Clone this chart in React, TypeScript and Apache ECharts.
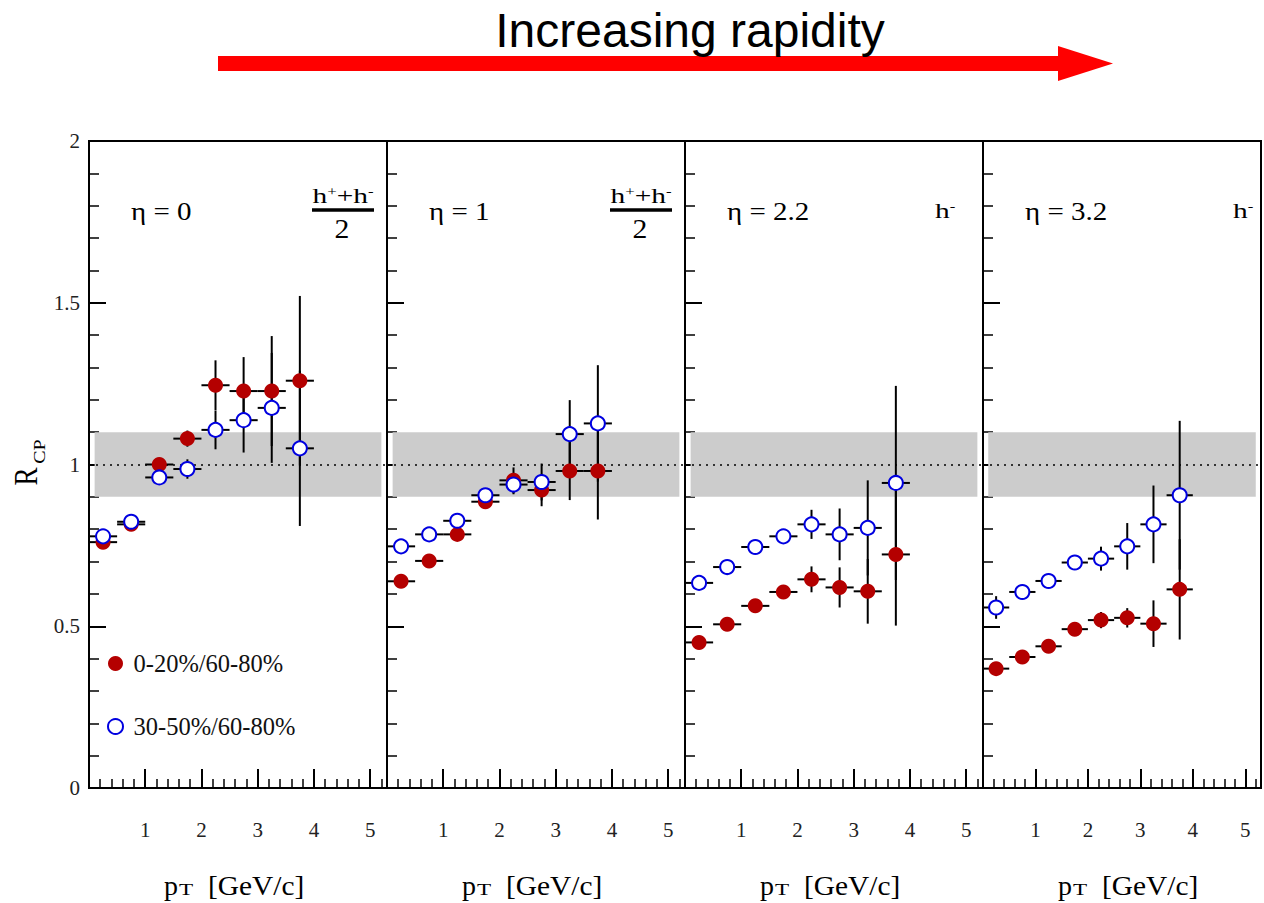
import React, { useEffect, useRef } from 'react';
import * as echarts from 'echarts';

// ---------- data ----------
const ptBins = [0.25, 0.75, 1.25, 1.75, 2.25, 2.75, 3.25, 3.75];
const ptHalfWidth = 0.25;

const panelLabels = ['η = 0', 'η = 1', 'η = 2.2', 'η = 3.2'];
const seriesNames = ['0-20%/60-80%', '30-50%/60-80%'];

const centralEta0 = [0.76, 0.815, 1.0, 1.08, 1.245, 1.227, 1.227, 1.259];
const centralErrEta0 = [0.012, 0.012, 0.02, 0.025, 0.077, 0.105, 0.17, 0.262];
const semiEta0 = [0.778, 0.823, 0.96, 0.986, 1.107, 1.137, 1.175, 1.05];
const semiErrEta0 = [0.012, 0.012, 0.02, 0.03, 0.06, 0.1, 0.17, 0.24];

const centralEta1 = [0.639, 0.702, 0.784, 0.885, 0.951, 0.921, 0.98, 0.98];
const centralErrEta1 = [0.012, 0.012, 0.015, 0.02, 0.04, 0.05, 0.09, 0.15];
const semiEta1 = [0.747, 0.784, 0.826, 0.905, 0.938, 0.946, 1.094, 1.127];
const semiErrEta1 = [0.012, 0.012, 0.02, 0.02, 0.03, 0.057, 0.105, 0.18];

const centralEta22 = [0.45, 0.506, 0.563, 0.606, 0.645, 0.62, 0.608, 0.722];
const centralErrEta22 = [0.01, 0.012, 0.015, 0.015, 0.04, 0.062, 0.1, 0.22];
const semiEta22 = [0.634, 0.683, 0.745, 0.778, 0.815, 0.784, 0.804, 0.943];
const semiErrEta22 = [0.01, 0.012, 0.015, 0.02, 0.045, 0.08, 0.147, 0.3];

const centralEta32 = [0.369, 0.405, 0.438, 0.491, 0.519, 0.526, 0.508, 0.614];
const centralErrEta32 = [0.012, 0.012, 0.015, 0.015, 0.025, 0.03, 0.072, 0.155];
const semiEta32 = [0.558, 0.606, 0.64, 0.697, 0.709, 0.747, 0.815, 0.905];
const semiErrEta32 = [0.035, 0.012, 0.015, 0.015, 0.037, 0.072, 0.12, 0.23];

const bandLow = 0.9;
const bandHigh = 1.1;
const bandXFrom = 0.1;
const bandXTo = 5.2;

// ---------- layout ----------
const PANEL_LEFTS = [89, 387, 685, 983];
const PANEL_WIDTH = 298;
const GRID_TOP = 141;
const GRID_HEIGHT = 647;
const X_MAX = 5.3;
const SERIF = "'Liberation Serif', 'Times New Roman', serif";
const RED = '#b40000';
const BLUE = '#0000e0';

const panels = [
  { central: centralEta0, centralErr: centralErrEta0, semi: semiEta0, semiErr: semiErrEta0, avg: true },
  { central: centralEta1, centralErr: centralErrEta1, semi: semiEta1, semiErr: semiErrEta1, avg: true },
  { central: centralEta22, centralErr: centralErrEta22, semi: semiEta22, semiErr: semiErrEta22, avg: false },
  { central: centralEta32, centralErr: centralErrEta32, semi: semiEta32, semiErr: semiErrEta32, avg: false },
];

const errRender = (params: any, api: any) => {
  const x = api.value(0);
  const y = api.value(1);
  const ex = api.value(2);
  const ey = api.value(3);
  const c = api.coord([x, y]);
  const l = api.coord([x - ex, y]);
  const r = api.coord([x + ex, y]);
  const t = api.coord([x, y + ey]);
  const b = api.coord([x, y - ey]);
  const st = { stroke: '#000', lineWidth: 2 };
  return {
    type: 'group',
    children: [
      { type: 'line', shape: { x1: l[0], y1: c[1], x2: r[0], y2: c[1] }, style: st },
      { type: 'line', shape: { x1: c[0], y1: t[1], x2: c[0], y2: b[1] }, style: st },
    ],
  };
};

const txt = (text: string, x: number, y: number, font: string, align: string, extra: any = {}) => ({
  type: 'text',
  x,
  y,
  silent: true,
  ...extra,
  style: {
    text,
    font,
    fill: '#000',
    align,
    textAlign: align,
    verticalAlign: 'middle',
    textVerticalAlign: 'middle',
    ...(extra.style || {}),
  },
});

function buildOption() {
  const grid = PANEL_LEFTS.map((l) => ({
    left: l,
    top: GRID_TOP,
    width: PANEL_WIDTH,
    height: GRID_HEIGHT,
    show: true,
    borderColor: '#000',
    borderWidth: 2,
    backgroundColor: 'transparent',
  }));

  const xAxis: any[] = [];
  const yAxis: any[] = [];
  const series: any[] = [];
  const graphic: any[] = [];

  PANEL_LEFTS.forEach((L, p) => {
    xAxis.push({
      type: 'value',
      gridIndex: p,
      min: 0,
      max: X_MAX,
      interval: 1,
      position: 'bottom',
      axisLine: { show: true, onZero: false, lineStyle: { color: '#000', width: 2 } },
      axisTick: { show: true, inside: true, length: 19, lineStyle: { color: '#000', width: 2 } },
      splitLine: { show: false },
      axisLabel: {
        show: true,
        margin: 31,
        fontSize: 21,
        fontFamily: SERIF,
        color: '#222',
        formatter: (v: number) => (v >= 1 && Math.abs(v - Math.round(v)) < 1e-9 ? String(Math.round(v)) : ''),
      },
    });
    xAxis.push({
      type: 'value',
      gridIndex: p,
      min: 0,
      max: X_MAX,
      interval: 0.2,
      position: 'bottom',
      axisLine: { show: false, onZero: false },
      axisTick: { show: true, inside: true, length: 9, lineStyle: { color: '#000', width: 1.5 } },
      splitLine: { show: false },
      axisLabel: { show: false },
    });
    yAxis.push({
      type: 'value',
      gridIndex: p,
      min: 0,
      max: 2,
      interval: 0.5,
      axisLine: { show: true, onZero: false, lineStyle: { color: '#000', width: 2 } },
      axisTick: { show: true, inside: true, length: 17, lineStyle: { color: '#000', width: 2 } },
      minorTick: { show: true, splitNumber: 5, length: 10, lineStyle: { color: '#000', width: 1.5 } },
      splitLine: { show: false },
      minorSplitLine: { show: false },
      axisLabel: { show: p === 0, margin: 9, fontSize: 21, fontFamily: SERIF, color: '#222' },
    });

    const xi = 2 * p;
    const d = panels[p];
    series.push({
      type: 'line',
      xAxisIndex: xi,
      yAxisIndex: p,
      data: [],
      silent: true,
      markArea: {
        silent: true,
        z: 1,
        itemStyle: { color: '#cccccc', opacity: 1 },
        label: { show: false },
        data: [[{ coord: [bandXFrom, bandLow] }, { coord: [bandXTo, bandHigh] }]],
      },
    });
    series.push({
      type: 'line',
      xAxisIndex: xi,
      yAxisIndex: p,
      data: [],
      silent: true,
      markLine: {
        silent: true,
        z: 2,
        symbol: 'none',
        label: { show: false },
        lineStyle: { color: '#000', type: [2, 5], width: 1.5, opacity: 1 },
        data: [{ yAxis: 1 }],
      },
    });
    [
      [d.central, d.centralErr],
      [d.semi, d.semiErr],
    ].forEach(([vals, errs]) => {
      series.push({
        type: 'custom',
        xAxisIndex: xi,
        yAxisIndex: p,
        z: 3,
        silent: true,
        clip: false,
        renderItem: errRender,
        encode: { x: 0, y: 1 },
        data: ptBins.map((x, i) => [x, vals[i], ptHalfWidth, errs[i]]),
      });
    });
    series.push({
      type: 'scatter',
      name: seriesNames[0],
      xAxisIndex: xi,
      yAxisIndex: p,
      z: 4,
      symbol: 'circle',
      symbolSize: 15,
      itemStyle: { color: RED, opacity: 1 },
      emphasis: { disabled: true },
      data: ptBins.map((x, i) => [x, d.central[i]]),
    });
    series.push({
      type: 'scatter',
      name: seriesNames[1],
      xAxisIndex: xi,
      yAxisIndex: p,
      z: 5,
      symbol: 'circle',
      symbolSize: 14,
      itemStyle: { color: '#ffffff', borderColor: BLUE, borderWidth: 2, opacity: 1 },
      emphasis: { disabled: true },
      data: ptBins.map((x, i) => [x, d.semi[i]]),
    });

    // panel annotations
    graphic.push(txt(panelLabels[p], L + 42, 212, `25px ${SERIF}`, 'left', { scaleX: 1.16 }));
    if (d.avg) {
      graphic.push({
        type: 'text',
        x: L + 254,
        y: 196,
        scaleX: 1.4,
        silent: true,
        style: {
          text: '{h|h}{s|+}{h|+h}{s|-}',
          align: 'center',
          textAlign: 'center',
          verticalAlign: 'middle',
          textVerticalAlign: 'middle',
          fill: '#000',
          rich: {
            h: { fontSize: 21, fontFamily: SERIF, color: '#000' },
            s: { fontSize: 12, fontFamily: SERIF, color: '#000', verticalAlign: 'top' },
          },
        },
      });
      graphic.push({
        type: 'rect',
        silent: true,
        shape: { x: L + 223, y: 208.3, width: 62, height: 3.4 },
        style: { fill: '#000' },
      });
      graphic.push(txt('2', L + 253, 229, `27px ${SERIF}`, 'center', { scaleX: 1.1 }));
    } else {
      graphic.push({
        type: 'text',
        x: L + 250,
        y: 211,
        scaleX: 1.4,
        silent: true,
        style: {
          text: '{h|h}{s|-}',
          align: 'left',
          textAlign: 'left',
          verticalAlign: 'middle',
          textVerticalAlign: 'middle',
          fill: '#000',
          rich: {
            h: { fontSize: 21, fontFamily: SERIF, color: '#000' },
            s: { fontSize: 12, fontFamily: SERIF, color: '#000', verticalAlign: 'top' },
          },
        },
      });
    }
    // x axis title: p_T [GeV/c]
    graphic.push(txt('p', L + 75, 885.5, `28px ${SERIF}`, 'left'));
    graphic.push(txt('T', L + 90, 889.5, `16px ${SERIF}`, 'left', { scaleX: 1.45 }));
    graphic.push(txt('[GeV/c]', L + 119, 885.5, `28px ${SERIF}`, 'left', { scaleX: 1.05 }));
  });

  // y axis title R_CP
  graphic.push(txt('R', 26, 476.5, `27px ${SERIF}`, 'center', { rotation: Math.PI / 2, scaleY: 1.25 }));
  graphic.push(txt('CP', 39, 451.5, `16px ${SERIF}`, 'center', { rotation: Math.PI / 2, scaleX: 1.25, scaleY: 1.1 }));

  // header: arrow + title
  graphic.push({
    type: 'rect',
    silent: true,
    shape: { x: 218, y: 56, width: 842, height: 15 },
    style: { fill: '#ff0000' },
  });
  graphic.push({
    type: 'polygon',
    silent: true,
    shape: { points: [[1058, 46], [1113, 63.5], [1058, 81]] },
    style: { fill: '#ff0000' },
  });
  graphic.push(txt('Increasing rapidity', 690, 30, `48px 'Liberation Sans', Arial, sans-serif`, 'center'));

  return {
    animation: false,
    backgroundColor: '#ffffff',
    textStyle: { fontFamily: SERIF },
    legend: {
      show: true,
      orient: 'vertical',
      left: 107,
      top: 651,
      padding: 0,
      itemWidth: 26,
      itemHeight: 15,
      itemGap: 38,
      selectedMode: false,
      textStyle: { fontFamily: SERIF, fontSize: 24.5, color: '#111' },
      data: seriesNames,
    },
    grid,
    xAxis,
    yAxis,
    series,
    graphic,
  };
}

export default function App() {
  const ref = useRef<HTMLDivElement>(null);
  useEffect(() => {
    if (!ref.current) return;
    const chart = echarts.init(ref.current, undefined, { renderer: 'svg' });
    chart.setOption(buildOption() as any);
    return () => chart.dispose();
  }, []);
  return (
    <div
      ref={ref}
      style={{ position: 'absolute', left: 0, top: 0, width: 1264, height: 903, background: '#fff', overflow: 'hidden' }}
    />
  );
}
